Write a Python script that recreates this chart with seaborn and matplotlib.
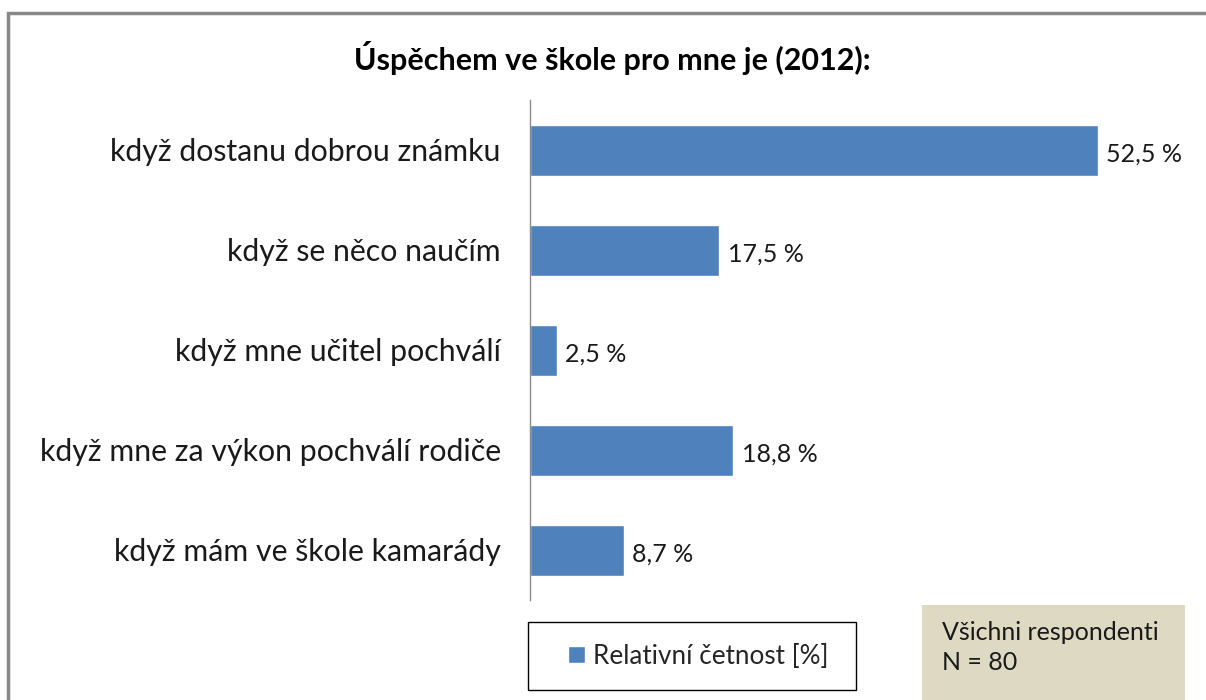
import matplotlib.pyplot as plt
import seaborn as sns
import pandas as pd
from matplotlib.patches import Rectangle, Patch

# data
categories = [
    'když dostanu dobrou známku',
    'když se něco naučím',
    'když mne učitel pochválí',
    'když mne za výkon pochválí rodiče',
    'když mám ve škole kamarády',
]
values = [52.5, 17.5, 2.5, 18.8, 8.7]

title = 'Úspěchem ve škole pro mne je (2012):'
legend_label = 'Relativní četnost [%]'
note_lines = ['Všichni respondenti', 'N = 80']

BAR_COLOR = '#4F81BD'
W, H = 1206, 700

sns.set_theme(style='white')
plt.rcParams['font.family'] = ['Lato', 'DejaVu Sans']

df = pd.DataFrame({'category': categories, 'value': values})

fig = plt.figure(figsize=(W / 100, H / 100), dpi=100)
fig.patch.set_facecolor('white')
# axes: left edge at x=530, plot spans y=100..600 px
ax = fig.add_axes([530 / W, 1 - 600 / H, 620 / W, 500 / H])

sns.barplot(data=df, x='value', y='category', orient='h', color=BAR_COLOR,
            width=0.51, saturation=1, ax=ax)

ax.set_xlim(0, 620 / 10.82)
ax.set_ylim(4.5, -0.5)
ax.set_xlabel('')
ax.set_ylabel('')
ax.set_xticks([])
for s in ('top', 'right', 'bottom'):
    ax.spines[s].set_visible(False)
ax.spines['left'].set_color('#8c8c8c')
ax.spines['left'].set_linewidth(1.0)
ax.tick_params(axis='y', length=0, pad=21, labelsize=21.8, labelcolor='#1a1a1a')

labels = [f'{v:.1f}'.replace('.', ',') + ' %' for v in values]
anns = ax.bar_label(ax.containers[0], labels=labels, padding=6, fontsize=18, color='#1a1a1a')
for a in anns:
    a.xyann = (6, -3)

fig.text(612 / W, 1 - 58 / H, title, ha='center', va='center',
         fontsize=22, fontweight='bold', color='black')

# outer chart border (right / bottom edges are cut off in the reference)
fig.add_artist(Rectangle((8 / W, -0.1), 1.2, 1 - 13 / H + 0.1, transform=fig.transFigure,
                         fill=False, edgecolor='#888888', linewidth=2.5))

# legend box
fig.add_artist(Rectangle((528 / W, 1 - 690 / H), 328 / W, 68 / H, transform=fig.transFigure,
                         fill=False, edgecolor='black', linewidth=1.0))
fig.legend(handles=[Patch(facecolor=BAR_COLOR, label=legend_label)],
           loc='center', bbox_to_anchor=(698 / W, 1 - 656 / H), frameon=False,
           fontsize=18.8, handlelength=0.65, handleheight=0.65, handletextpad=0.3)

# note box
fig.add_artist(Rectangle((922 / W, -0.05), 263 / W, (H - 605) / H + 0.05,
                         transform=fig.transFigure, facecolor='#DDD9C3', edgecolor='none'))
fig.text(942 / W, 1 - 632 / H, note_lines[0], ha='left', va='center', fontsize=18, color='#1a1a1a')
fig.text(942 / W, 1 - 663 / H, note_lines[1], ha='left', va='center', fontsize=18, color='#1a1a1a')

fig.savefig('out.png', dpi=100)
